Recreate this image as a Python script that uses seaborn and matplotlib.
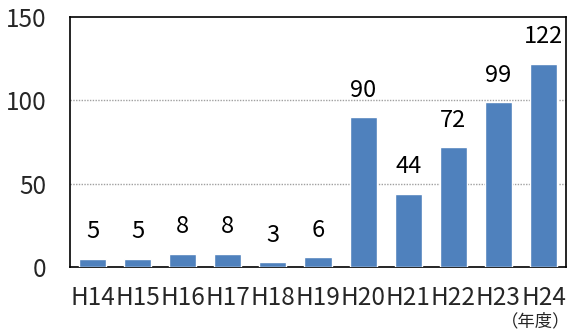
import matplotlib
matplotlib.use("Agg")
import matplotlib.pyplot as plt
import seaborn as sns
import pandas as pd

years = ["H14", "H15", "H16", "H17", "H18", "H19", "H20", "H21", "H22", "H23", "H24"]
counts = [5, 5, 8, 8, 3, 6, 90, 44, 72, 99, 122]
y_ticks = [0, 50, 100, 150]

sns.set_theme(style="white")
plt.rcParams["font.family"] = ["Noto Sans CJK JP", "DejaVu Sans"]

df = pd.DataFrame({"year": years, "count": counts})

fig = plt.figure(figsize=(5.71, 3.36), dpi=100)
ax = fig.add_axes([70 / 571, 69 / 336, 496 / 571, 250 / 336])

sns.barplot(data=df, x="year", y="count", color="#4F81BD", saturation=1,
            width=0.6, ax=ax, zorder=3)

ax.set_ylim(0, 150)
ax.set_xlim(-0.5, len(years) - 0.5)
ax.set_yticks(y_ticks)
ax.set_yticklabels([str(t) for t in y_ticks], fontsize=17.5)
ax.tick_params(axis="y", direction="in", length=6, width=1.2, color="#404040", pad=17)
ax.tick_params(axis="x", length=0, pad=13, labelsize=17.5)
ax.set_xlabel("")
ax.set_ylabel("")

# category boundary ticks on the x axis
ax.set_xticks([i + 0.5 for i in range(len(years) - 1)], minor=True)
ax.tick_params(axis="x", which="minor", direction="in", length=5, width=1, color="#404040")

for y in (50, 100):
    ax.axhline(y, color="#a0a0a0", linestyle=(0, (1, 1)), linewidth=1, zorder=1)

for s in ax.spines.values():
    s.set_color("black")
    s.set_linewidth(1.2)

for i, v in enumerate(counts):
    ax.annotate(str(v), (i, v), xytext=(0, 11), textcoords="offset points",
                ha="center", va="bottom", fontsize=17, color="black")

fig.text(570 / 571, 1 - 321 / 336, "（年度）", ha="right", va="center", fontsize=12.5)

fig.savefig("out.png", dpi=100)
